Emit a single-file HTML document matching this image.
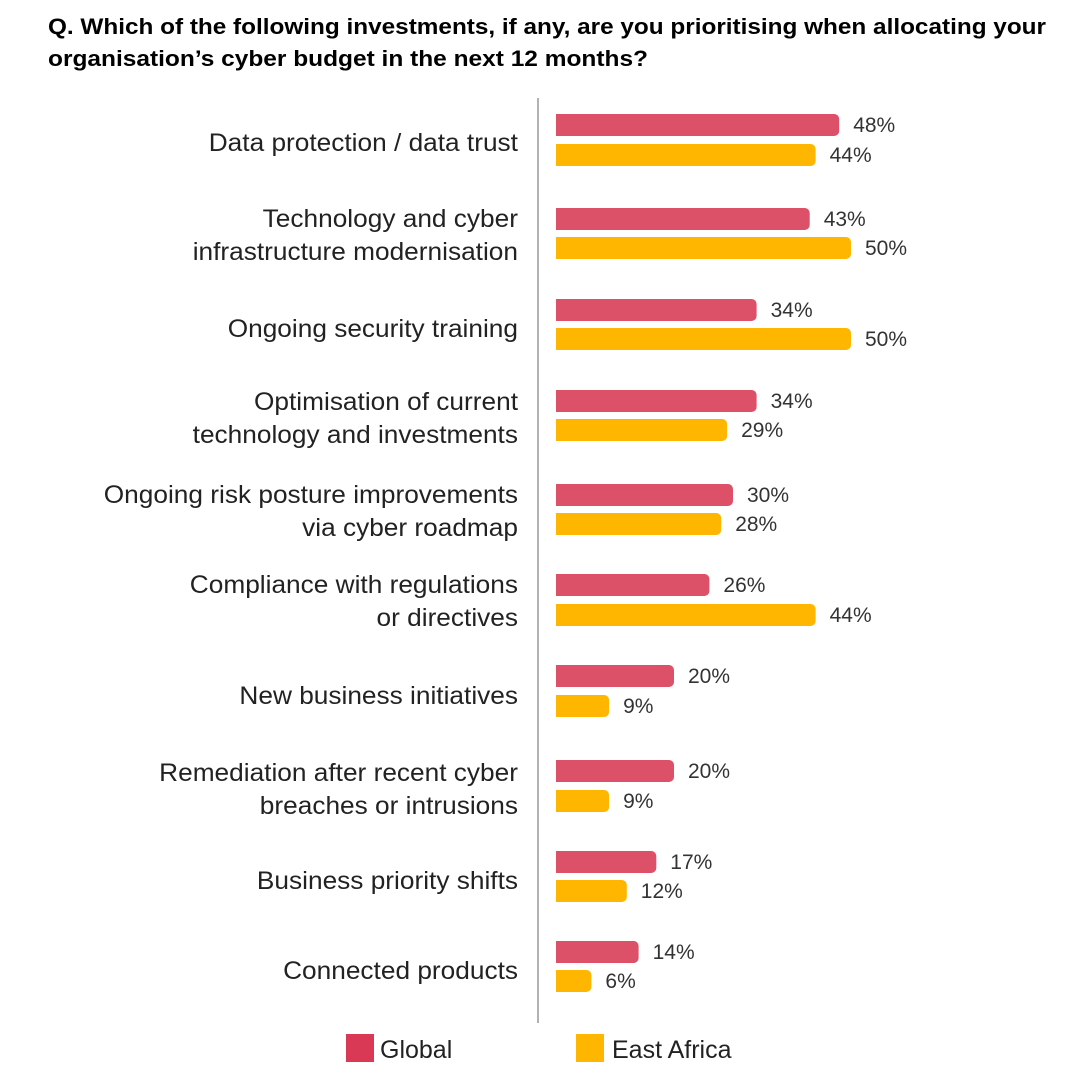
<!DOCTYPE html>
<html><head><meta charset="utf-8"><style>
html,body{margin:0;padding:0;background:#fff;}
svg{display:block;font-family:"Liberation Sans",Arial,sans-serif;}
</style></head><body>
<svg width="1080" height="1080" viewBox="0 0 1080 1080" xmlns="http://www.w3.org/2000/svg">
<text x="48" y="34" font-size="22" font-weight="bold" fill="#000" textLength="998" lengthAdjust="spacingAndGlyphs">Q. Which of the following investments, if any, are you prioritising when allocating your</text>
<text x="48" y="66" font-size="22" font-weight="bold" fill="#000" textLength="600" lengthAdjust="spacingAndGlyphs">organisation’s cyber budget in the next 12 months?</text>
<line x1="538" y1="98" x2="538" y2="1023" stroke="#999" stroke-width="1.5"/>
<g font-size="25" fill="#222" text-anchor="end" transform="translate(518,0) scale(1.05,1) translate(-518,0)">
<text x="518" y="151">Data protection / data trust</text>
<text x="518" y="227">Technology and cyber</text>
<text x="518" y="260">infrastructure modernisation</text>
<text x="518" y="337">Ongoing security training</text>
<text x="518" y="410">Optimisation of current</text>
<text x="518" y="443">technology and investments</text>
<text x="518" y="503">Ongoing risk posture improvements</text>
<text x="518" y="536">via cyber roadmap</text>
<text x="518" y="593">Compliance with regulations</text>
<text x="518" y="626">or directives</text>
<text x="518" y="704">New business initiatives</text>
<text x="518" y="781">Remediation after recent cyber</text>
<text x="518" y="814">breaches or intrusions</text>
<text x="518" y="889">Business priority shifts</text>
<text x="518" y="979">Connected products</text>
</g>
<g id="bars"></g>
<rect x="346" y="1034" width="28" height="28" fill="#D93954"/>
<text x="380" y="1058" font-size="25" fill="#222">Global</text>
<rect x="576" y="1034" width="28" height="28" fill="#FFB600"/>
<text x="612" y="1058" font-size="25" fill="#222">East Africa</text>
</svg>
<script>
var d=[[48,44,125,155],[43,50,219,248],[34,50,310,339],[34,29,401,430],[30,28,495,524],[26,44,585,615],[20,9,676,706],[20,9,771,801],[17,12,862,891],[14,6,952,981]];
var s='';
d.forEach(function(r){
 [[r[0],r[2],'#DC5068'],[r[1],r[3],'#FFB600']].forEach(function(b){
  var w=b[0]*5.9;
  s+='<path d="M556 '+(b[1]-11)+'h'+(w-5)+'a5 5 0 0 1 5 5v12a5 5 0 0 1 -5 5h-'+(w-5)+'z" fill="'+b[2]+'"/>';
  s+='<text x="'+(556+w+14)+'" y="'+(b[1]+7)+'" font-size="21" fill="#333">'+b[0]+'%</text>';
 });
});
document.getElementById('bars').innerHTML=s;
</script>
</body></html>
